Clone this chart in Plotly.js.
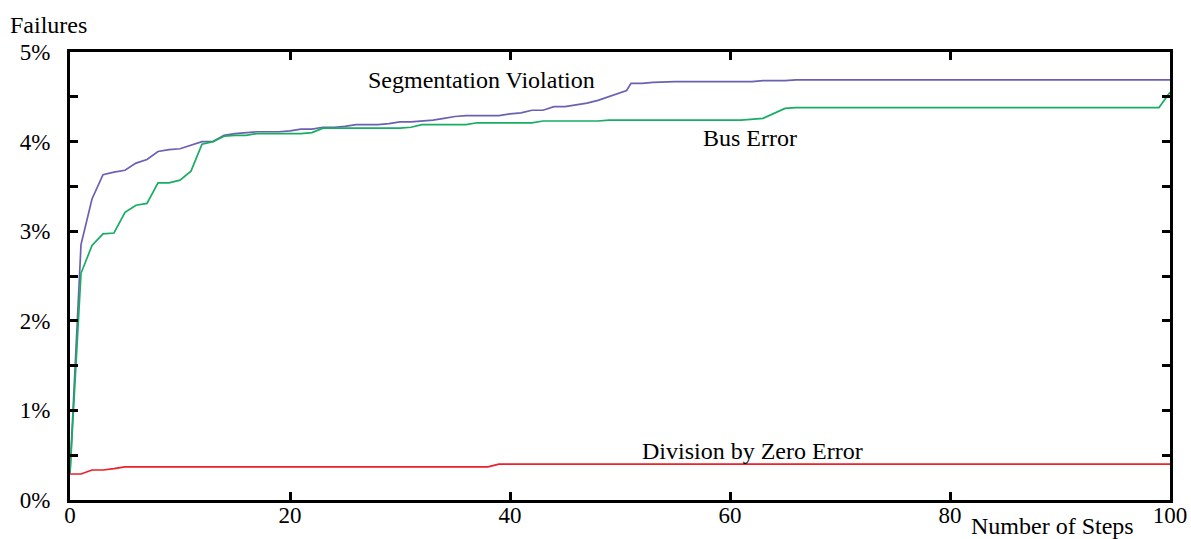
<!DOCTYPE html>
<html>
<head>
<meta charset="utf-8">
<script src="https://cdn.plot.ly/plotly-3.0.1.min.js"></script>
<style>html,body{margin:0;padding:0;background:#fff;}#chart{width:1191px;height:539px;}</style>
</head>
<body>
<div id="chart"></div>
<script>
// Segmentation Violation
const segSteps = [0,1,2,3,4,5,6,7,8,9,10,11,12,13,14,15,16,17,18,19,20,21,22,23,24,25,26,27,28,29,30,31,32,33,34,35,36,37,38,39,40,41,42,43,44,45,46,47,48,49,50,50.6,51,52,53,55,62,63,65,66,100];
const segValues = [0.30,2.85,3.36,3.63,3.66,3.68,3.76,3.80,3.89,3.91,3.92,3.96,4.00,4.00,4.07,4.09,4.10,4.11,4.11,4.11,4.12,4.14,4.14,4.16,4.16,4.17,4.19,4.19,4.19,4.20,4.22,4.22,4.23,4.24,4.26,4.28,4.29,4.29,4.29,4.29,4.31,4.32,4.35,4.35,4.39,4.39,4.41,4.43,4.46,4.50,4.54,4.57,4.65,4.65,4.66,4.67,4.67,4.68,4.68,4.69,4.69];
// Bus Error
const busSteps = [0,1,2,3,4,5,6,7,8,9,10,11,12,13,14,15,16,17,20,21,22,23,30,31,32,36,37,42,43,48,49,61,63,65,66,99,100];
const busValues = [0.30,2.53,2.84,2.97,2.98,3.21,3.29,3.31,3.54,3.54,3.57,3.67,3.97,4.00,4.06,4.07,4.07,4.09,4.09,4.09,4.10,4.15,4.15,4.16,4.19,4.19,4.21,4.21,4.23,4.23,4.24,4.24,4.26,4.37,4.38,4.38,4.55];
// Division by Zero Error
const divSteps = [0,1,2,3,4,5,38,39,100];
const divValues = [0.29,0.29,0.335,0.335,0.35,0.37,0.37,0.40,0.40];

const xTickVals = [0,20,40,60,80,100];
const xTickText = ["0","20","40","60","80","100"];
const yTickVals = [0,0.5,1,1.5,2,2.5,3,3.5,4,4.5,5];
const yTickText = ["0%","","1%","","2%","","3%","","4%","","5%"];

const font = {family: "Liberation Serif, Times New Roman, serif", size: 24, color: "#000"};
const tickFont = {family: "Liberation Serif, Times New Roman, serif", size: 23, color: "#000"};

const traces = [
  {x: segSteps, y: segValues, mode: "lines", line: {color: "#6a61b3", width: 1.7}, hoverinfo: "skip"},
  {x: busSteps, y: busValues, mode: "lines", line: {color: "#17ad62", width: 1.7}, hoverinfo: "skip"},
  {x: divSteps, y: divValues, mode: "lines", line: {color: "#ec1f2a", width: 1.7}, hoverinfo: "skip"}
];

const layout = {
  width: 1191, height: 539,
  margin: {l: 70, r: 21, t: 52, b: 39},
  paper_bgcolor: "#fff", plot_bgcolor: "#fff",
  showlegend: false,
  font: font,
  xaxis: {
    range: [0, 100], tickvals: xTickVals, ticktext: xTickText,
    ticks: "inside", ticklen: 8, tickwidth: 3, tickcolor: "#000",
    showline: true, linewidth: 3, linecolor: "#000", mirror: "ticks",
    showgrid: false, zeroline: false, tickfont: tickFont, ticklabelstandoff: -8
  },
  yaxis: {
    range: [0, 5], tickvals: yTickVals, ticktext: yTickText,
    ticks: "inside", ticklen: 8, tickwidth: 3, tickcolor: "#000",
    showline: true, linewidth: 3, linecolor: "#000", mirror: "ticks",
    showgrid: false, zeroline: false, tickfont: tickFont, ticklabelstandoff: 12
  },
  annotations: [
    {text: "Segmentation Violation", x: 37.4, y: 4.69, xref: "x", yref: "y", showarrow: false, font: font},
    {text: "Bus Error", x: 61.8, y: 4.04, xref: "x", yref: "y", showarrow: false, font: font},
    {text: "Division by Zero Error", x: 62, y: 0.55, xref: "x", yref: "y", showarrow: false, font: font},
    {text: "Failures", x: -0.056, y: 1.06, xref: "paper", yref: "paper", xanchor: "left", yanchor: "middle", showarrow: false, font: font},
    {text: "Number of Steps", x: 0.817, y: -0.058, xref: "paper", yref: "paper", xanchor: "left", yanchor: "middle", showarrow: false, font: font}
  ]
};

Plotly.newPlot("chart", traces, layout, {staticPlot: true, displayModeBar: false});
</script>
</body>
</html>
